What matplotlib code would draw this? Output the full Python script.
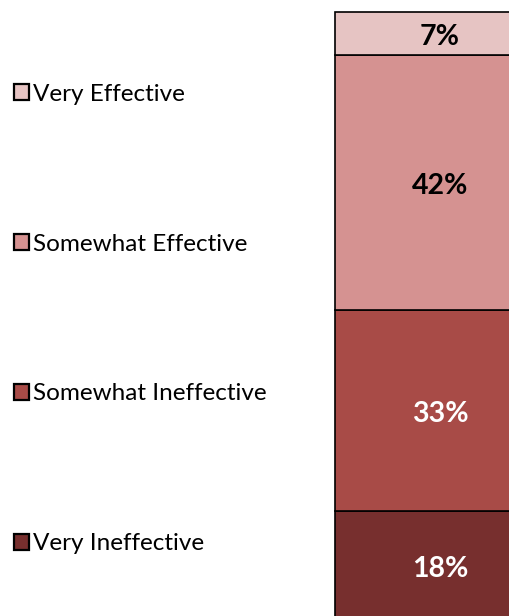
import matplotlib
matplotlib.use("Agg")
import matplotlib.pyplot as plt
import matplotlib.transforms as mtransforms

categories = ["Very Ineffective", "Somewhat Ineffective", "Somewhat Effective", "Very Effective"]
values = [18, 33, 42, 7]
colors = ["#772F2E", "#A84B47", "#D59291", "#E6C4C3"]
label_colors = ["white", "white", "black", "black"]

plt.rcParams['font.family'] = ['Lato', 'DejaVu Sans']

W, H = 509, 616
fig = plt.figure(figsize=(W / 100, H / 100), dpi=100)
ax = fig.add_axes([335 / W, (616 - 620) / H, 210 / W, (620 - 12) / H])
ax.set_xlim(0, 1)
ax.set_ylim(0, 100)
ax.axis("off")

shift = mtransforms.offset_copy(ax.transData, fig=fig, x=0, y=-3, units="points")

bottom = 0
handles = []
for cat, v, c, lc in zip(categories, values, colors, label_colors):
    b = ax.bar(0.5, v, width=1.0, bottom=bottom, color=c, edgecolor="black",
               linewidth=1.2, label=cat, clip_on=False)
    handles.append(b)
    ax.text(0.5, bottom + v / 2, f"{v}%", ha="center", va="center",
            fontsize=20.5, fontweight="bold", color=lc, transform=shift)
    bottom += v

leg = fig.legend(handles[::-1], categories[::-1], loc="upper left",
                 bbox_to_anchor=(4 / W, 1 - 74 / H), frameon=False,
                 fontsize=17.5, handlelength=0.64, handleheight=0.64,
                 handletextpad=0.17, labelspacing=5.3, borderaxespad=0)
for h in leg.legend_handles:
    h.set_linewidth(1.6)

fig.savefig("out.png", dpi=100)
